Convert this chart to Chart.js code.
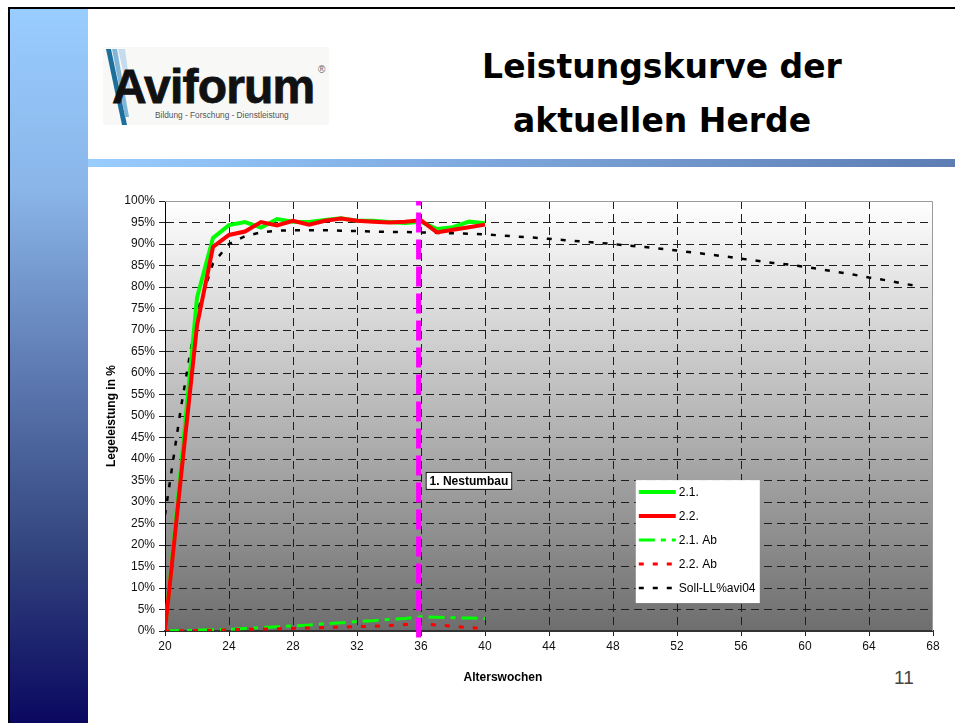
<!DOCTYPE html>
<html lang="de">
<head>
    <meta charset="UTF-8">
    <title>Leistungskurve der aktuellen Herde</title>
    <script src="https://cdn.jsdelivr.net/npm/chart.js"></script>
    <style>
        body { margin: 0; width: 955px; height: 723px; overflow: hidden; background: #fff; font-family: "Liberation Sans", Arial, sans-serif; }
        .frame { position: absolute; left: 8px; top: 7px; width: 947px; height: 716px; border-left: 2px solid #000; border-top: 2px solid #000; }
        .sidebar { position: absolute; left: 10px; top: 9px; width: 78px; height: 714px;
                   background: linear-gradient(to bottom, #99ccff 0%, #8ab6ea 25%, #5f7cb4 50%, #34467f 75%, #0a0860 100%); }
        .bar { position: absolute; left: 88px; top: 159px; width: 867px; height: 8px;
               background: linear-gradient(to right, #99ccff, #5d7db4); }
        .logo { position: absolute; left: 103px; top: 47px; width: 226px; height: 78px; background: #f8f8f7; overflow: hidden; }
        .logo svg { position: absolute; left: 0; top: 0; }
        .logo .name { position: absolute; left: 9px; top: 12px; font: bold 48px "Liberation Sans", Arial, sans-serif; color: #111;
                      letter-spacing: -0.8px; -webkit-text-stroke: 0.8px #111; }
        .logo .reg { position: absolute; left: 215px; top: 17px; font: 10px "Liberation Sans", Arial, sans-serif; color: #666; }
        .logo .sub { position: absolute; left: 52px; top: 63px; font: 8.3px "Liberation Sans", Arial, sans-serif; color: #555; white-space: nowrap; }
        .title { position: absolute; left: 432px; top: 40px; width: 460px; text-align: center;
                 font: bold 33px/54px "DejaVu Sans", Verdana, sans-serif; color: #000; }
        .pagenum { position: absolute; left: 894px; top: 667px; font: 300 19px "Liberation Sans", Arial, sans-serif; color: #444; }
        #chart { position: absolute; left: 0; top: 0; }
    </style>
</head>
<body>
    <div class="frame"></div>
    <div class="sidebar"></div>
    <div class="bar"></div>
    <div class="logo">
        <svg width="40" height="78">
            <polygon points="3,2 8,2 24,78 19,78" fill="#1d6f9c"/>
            <polygon points="9,2 14,2 26,70 22,70" fill="#7fb6d8"/>
            <polygon points="15,2 22,2 28,46 25,46" fill="#c4dced"/>
        </svg>
        <div class="name">Aviforum</div>
        <div class="reg">®</div>
        <div class="sub">Bildung - Forschung - Dienstleistung</div>
    </div>
    <div class="title">Leistungskurve der<br>aktuellen Herde</div>
    <div class="pagenum">11</div>

    <canvas id="chart" width="955" height="723"></canvas>

    <script>
        // Alterswochen der aktuellen Herde
        const weeks = [20, 21, 22, 23, 24, 25, 26, 27, 28, 29, 30, 31, 32, 33, 34, 35, 36, 37, 38, 39, 40];
        const herde21 = [0, 38, 77.5, 91.4, 94.4, 95.1, 93.8, 95.8, 95.2, 95.1, 95.6, 96.0, 95.4, 95.4, 95.1, 94.9, 95.2, 93.5, 93.9, 95.2, 94.8];
        const herde22 = [0, 36, 71, 89.3, 92.1, 92.9, 95.1, 94.3, 95.4, 94.5, 95.4, 95.9, 95.4, 95.2, 95.0, 95.2, 95.5, 92.7, 93.3, 93.9, 94.5];
        const herde21Ab = [0, 0.1, 0.2, 0.3, 0.4, 0.6, 0.8, 1.0, 1.2, 1.4, 1.7, 1.9, 2.2, 2.4, 2.7, 2.9, 3.3, 3.2, 3.1, 3.0, 2.9];
        const herde22Ab = [0, 0.05, 0.1, 0.2, 0.3, 0.4, 0.45, 0.5, 0.6, 0.7, 0.8, 0.9, 1.0, 1.1, 1.3, 1.5, 1.7, 1.4, 1.1, 0.8, 0.5];

        // Sollkurve avi04
        const sollWeeks = [20, 21, 22, 23, 24, 25, 26, 27, 28, 29, 30, 31, 32, 33, 34, 35, 36, 37, 38, 39, 40, 41, 42, 43,
                           44, 45, 46, 47, 48, 49, 50, 51, 52, 53, 54, 55, 56, 57, 58, 59, 60, 61, 62, 63, 64, 65, 66, 67];
        const soll = [27, 52, 74, 85.5, 90, 91.8, 92.7, 93.1, 93.2, 93.2, 93.2, 93.1, 93.0, 92.9, 92.8, 92.8, 92.7, 92.6, 92.5, 92.4,
                      92.2, 92.0, 91.7, 91.5, 91.2, 90.9, 90.6, 90.3, 90.0, 89.6, 89.3, 88.9, 88.5, 88.0, 87.6, 87.1, 86.6, 86.1,
                      85.6, 85.2, 84.7, 84.1, 83.5, 82.9, 82.2, 81.6, 80.9, 80.2];

        const nestumbauWeek = 35.85;
        const nestumbauLabel = '1. Nestumbau';

        const xTicks = [20, 24, 28, 32, 36, 40, 44, 48, 52, 56, 60, 64, 68];
        const yTicks = [0, 5, 10, 15, 20, 25, 30, 35, 40, 45, 50, 55, 60, 65, 70, 75, 80, 85, 90, 95, 100];

        const pts = (xs, ys) => xs.map((x, i) => ({ x: x, y: ys[i] }));
        const FONT = '"Liberation Sans", Arial, sans-serif';

        const datasets = [
            { label: '2.1.', data: pts(weeks, herde21), borderColor: '#00ff00', borderWidth: 4, borderDash: [], order: 3 },
            { label: '2.2.', data: pts(weeks, herde22), borderColor: '#ff0000', borderWidth: 4, borderDash: [], order: 2 },
            { label: '2.1. Ab', data: pts(weeks, herde21Ab), borderColor: '#00ff00', borderWidth: 3, borderDash: [16, 6, 5, 6], order: 5 },
            { label: '2.2. Ab', data: pts(weeks, herde22Ab), borderColor: '#ff0000', borderWidth: 3, borderDash: [5, 9], order: 4 },
            { label: 'Soll-LL%avi04', data: pts(sollWeeks, soll), borderColor: '#000000', borderWidth: 2.5, borderDash: [5, 9], order: 6 },
            { label: 'Nestumbau', data: [{ x: nestumbauWeek, y: -1.5 }, { x: nestumbauWeek, y: 100 }],
              borderColor: '#ff00ff', borderWidth: 5, borderDash: [20, 7], order: 1, clip: false }
        ];
        const legendItems = datasets.slice(0, 5);

        const slidePlugin = {
            id: 'slide',
            beforeDraw(chart) {
                const { ctx, chartArea: a } = chart;
                const g = ctx.createLinearGradient(0, a.top, 0, a.bottom);
                g.addColorStop(0, '#ffffff');
                g.addColorStop(1, '#6e6e6e');
                ctx.save();
                ctx.fillStyle = g;
                ctx.fillRect(a.left, a.top, a.width, a.height);
                ctx.restore();
            },
            beforeDatasetsDraw(chart) {
                const { ctx, chartArea: a } = chart;
                ctx.save();
                ctx.strokeStyle = '#9a9a9a';
                ctx.lineWidth = 1;
                ctx.beginPath();
                ctx.moveTo(a.left, a.top + 0.5);
                ctx.lineTo(a.right - 0.5, a.top + 0.5);
                ctx.lineTo(a.right - 0.5, a.bottom);
                ctx.stroke();
                ctx.restore();
            },
            afterDraw(chart) {
                const { ctx, chartArea: a, scales } = chart;
                ctx.save();
                // axis titles
                ctx.fillStyle = '#000';
                ctx.font = 'bold 12px ' + FONT;
                ctx.textAlign = 'center';
                ctx.textBaseline = 'middle';
                ctx.fillText('Alterswochen', a.left + a.width * 0.44, a.bottom + 47);
                ctx.save();
                ctx.translate(a.left - 53, (a.top + a.bottom) / 2);
                ctx.rotate(-Math.PI / 2);
                ctx.fillText('Legeleistung in %', 0, 0);
                ctx.restore();

                // label "1. Nestumbau"
                ctx.font = 'bold 12px ' + FONT;
                const lx = scales.x.getPixelForValue(nestumbauWeek) + 7;
                const ly = scales.y.getPixelForValue(37);
                const lw = ctx.measureText(nestumbauLabel).width + 8;
                ctx.fillStyle = '#fff';
                ctx.fillRect(lx, ly, lw, 18);
                ctx.strokeStyle = '#000';
                ctx.lineWidth = 1;
                ctx.strokeRect(lx + 0.5, ly + 0.5, lw - 1, 17);
                ctx.fillStyle = '#000';
                ctx.textAlign = 'left';
                ctx.fillText(nestumbauLabel, lx + 4, ly + 9.5);

                // legend box
                const bx = a.left + a.width * 0.613;
                const by = a.top + a.height * 0.649;
                ctx.fillStyle = '#fff';
                ctx.fillRect(bx, by, 124, 123);
                ctx.font = '12px ' + FONT;
                legendItems.forEach((d, i) => {
                    const y = by + 12 + i * 24;
                    ctx.save();
                    ctx.strokeStyle = d.borderColor;
                    ctx.lineWidth = d.borderWidth;
                    ctx.setLineDash(d.borderDash);
                    ctx.beginPath();
                    ctx.moveTo(bx + 3, y);
                    ctx.lineTo(bx + 40, y);
                    ctx.stroke();
                    ctx.restore();
                    ctx.fillStyle = '#000';
                    ctx.fillText(d.label, bx + 43, y + 1);
                });
                ctx.restore();
            }
        };

        const gridColor = (c) => (c.tick && (c.tick.value === 100 || c.tick.value === 68)) ? 'rgba(0,0,0,0)' : '#1e1e1e';

        new Chart(document.getElementById('chart'), {
            type: 'line',
            data: { datasets: datasets },
            plugins: [slidePlugin],
            options: {
                responsive: false,
                animation: false,
                devicePixelRatio: 1,
                layout: { padding: { left: 95, top: 201, right: 22, bottom: 10 } },
                elements: { point: { radius: 0 }, line: { tension: 0, fill: false } },
                plugins: { legend: { display: false }, tooltip: { enabled: false } },
                scales: {
                    x: {
                        type: 'linear', min: 20, max: 68,
                        afterBuildTicks: (s) => { s.ticks = xTicks.map(v => ({ value: v })); },
                        afterFit: (s) => { s.height = 82; },
                        ticks: { color: '#111', font: { family: FONT, size: 12 }, padding: 3, maxRotation: 0 },
                        grid: { color: gridColor, tickColor: '#222', tickLength: 5, tickBorderDash: [] },
                        border: { color: '#333', width: 2, dash: [8, 5] }
                    },
                    y: {
                        min: 0, max: 100,
                        afterBuildTicks: (s) => { s.ticks = yTicks.map(v => ({ value: v })); },
                        afterFit: (s) => { s.width = 70; },
                        ticks: { color: '#111', font: { family: FONT, size: 12 }, padding: 4, callback: (v) => v + '%' },
                        grid: { color: gridColor, tickColor: '#222', tickLength: 6, tickBorderDash: [] },
                        border: { color: '#000', width: 1, dash: [8, 5] }
                    }
                }
            }
        });
    </script>
</body>
</html>
